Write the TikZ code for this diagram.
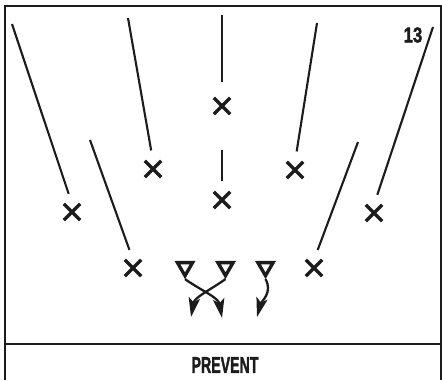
\documentclass[tikz,border=0pt]{standalone}
\usepackage{fontspec}
\setmainfont{Liberation Sans}
\newfontfamily\pvheavy[FakeBold=2.2]{Liberation Sans}
\usepackage{xcolor}
\usepackage{tikz}
\usetikzlibrary{shapes.misc,shapes.geometric,arrows.meta}
\definecolor{PVInk}{HTML}{1C1C1C}

\begin{document}
\begin{tikzpicture}[x=0.02cm,y=-0.02cm,
  pvframe/.style={PVInk,line width=1.3pt},
  pvman/.style={cross out,draw=PVInk,line width=1.9pt,minimum size=0.26cm,inner sep=0pt},
  pvblock/.style={regular polygon,regular polygon sides=3,shape border rotate=180,draw=PVInk,line width=1.9pt,minimum size=0.35cm,inner sep=0pt},
  pvroute/.style={PVInk,line width=1.2pt,shorten >=6pt},
  pvmove/.style={PVInk,line width=1.3pt,-{Stealth[length=11pt,width=6.5pt,inset=2.5pt]}},
  pvtext/.style={PVInk,inner sep=0pt}]
\path[use as bounding box] (0,0) rectangle (442,380);
\draw[pvframe] (5,380) -- (5,6) -- (441,6) -- (441,380);
\draw[pvframe] (5,344) -- (441,344);
\node[pvman] (xWL) at (72,212) {};
\node[pvman] (xSL) at (133,268) {};
\node[pvman] (xLL) at (153,169) {};
\node[pvman] (xMid) at (222,106) {};
\node[pvman] (xMidLow) at (222,200) {};
\node[pvman] (xLR) at (295,170) {};
\node[pvman] (xSR) at (314,268) {};
\node[pvman] (xWR) at (374,213) {};
\coordinate (tWL) at (12,24);
\coordinate (tSL) at (90,140);
\coordinate (tLL) at (128,18);
\coordinate (tMid) at (222,15);
\coordinate (tMidLow) at (222,150);
\coordinate (tLR) at (317,23);
\coordinate (tSR) at (358,142);
\coordinate (tWR) at (433,27);
\draw[pvroute] (tWL) -- (xWL.north);
\draw[pvroute] (tSL) -- (xSL.north);
\draw[pvroute] (tLL) -- (xLL.north);
\draw[pvroute,shorten >=9pt] (tMid) -- (xMid.north);
\draw[pvroute] (tMidLow) -- (xMidLow.north);
\draw[pvroute] (tLR) -- (xLR.north);
\draw[pvroute] (tSR) -- (xSR.north);
\draw[pvroute] (tWR) -- (xWR.north);
\node[pvblock] (bL) at (185,267) {};
\node[pvblock] (bC) at (225.5,267) {};
\node[pvblock] (bR) at (265.5,267) {};
\coordinate (eL) at (222,318);
\coordinate (eC) at (191,317);
\coordinate (eR) at (257,317);
\draw[pvmove] (bL.south) to[out=-35,in=100] (eL);
\draw[pvmove] (bC.south) to[out=-145,in=80] (eC);
\draw[pvmove] (bR.south) to[out=-60,in=75] (eR);
\node[pvtext,font=\pvheavy\bfseries\fontsize{12.2}{13}\selectfont] (num) at (413,35) {\scalebox{0.78}[1]{13}};
\node[pvtext,font=\pvheavy\bfseries\fontsize{13}{14}\selectfont] (title) at (225,365) {\scalebox{0.62}[1]{PREVENT}};
\end{tikzpicture}
\end{document}
